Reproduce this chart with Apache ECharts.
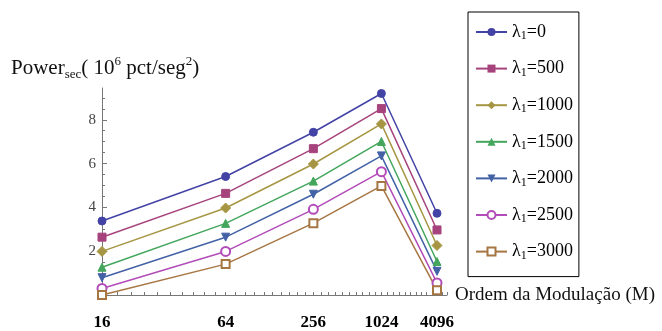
<!DOCTYPE html>
<html>
<head>
<meta charset="utf-8">
<script src="https://cdn.jsdelivr.net/npm/echarts@6/dist/echarts.min.js"></script>
<style>html,body{margin:0;padding:0;background:#fff}#c{width:662px;height:331px}</style>
</head>
<body>
<div id="c"></div>
<script>
// Modulation order M and its bits (log2 M) used as the x coordinate
const mLabels = ['16', '64', '256', '1024', '4096'];
const bits = [4, 6, 8, 10, 12];
const lambdas = ['0', '500', '1000', '1500', '2000', '2500', '3000'];
const s0    = [3.38, 5.41, 7.43, 9.20, 3.73];
const s500  = [2.64, 4.64, 6.68, 8.51, 2.97];
const s1000 = [1.99, 3.97, 5.98, 7.81, 2.26];
const s1500 = [1.27, 3.27, 5.20, 7.01, 1.53];
const s2000 = [0.79, 2.64, 4.60, 6.35, 1.08];
const s2500 = [0.30, 1.99, 3.91, 5.63, 0.55];
const s3000 = [0.00, 1.41, 3.28, 4.98, 0.22];
const yTicks = [2, 4, 6, 8];

const seriesVals = [s0, s500, s1000, s1500, s2000, s2500, s3000];
const colors = ['#4343a6', '#a6437c', '#a69643', '#43a65c', '#4362a6', '#b24cb8', '#a67643'];
const symbols = ['circle', 'rect', 'diamond', 'triangle', 'triangle', 'emptyCircle', 'emptyRect'];
const symSizes = [8, 8, 10, 8, 8, 9, 8];
const rotates = [0, 0, 0, 0, 180, 0, 0];

const minorTicks = [];
for (let v = 40; v <= 124; v += 2) minorTicks.push(v / 10);

const serif = '"Liberation Serif", "DejaVu Serif", serif';
const chart = echarts.init(document.getElementById('c'));
chart.setOption({
  animation: false,
  color: colors,
  title: {
    left: 6, top: 50,
    text: '{a|Power}{s|sec}{a|( 10}{p|6}{a| pct/seg}{p|2}{a|)}',
    textStyle: {
      fontWeight: 'normal',
      rich: {
        a: { fontFamily: serif, fontSize: 21, fontWeight: 'normal', color: '#111', lineHeight: 26 },
        s: { fontFamily: serif, fontSize: 13, fontWeight: 'normal', color: '#111', lineHeight: 13, verticalAlign: 'bottom' },
        p: { fontFamily: serif, fontSize: 13, fontWeight: 'normal', color: '#111', lineHeight: 15, verticalAlign: 'top' }
      }
    }
  },
  legend: {
    orient: 'vertical',
    left: 468, top: 12,
    padding: [11, 6, 15, 7],
    itemGap: 17.6,
    itemWidth: 31,
    itemHeight: 10,
    borderColor: '#000', borderWidth: 1,
    formatter: function (name) {
      return '{a|λ}{s|1}{a|=' + name.split('=')[1] + '}';
    },
    textStyle: {
      rich: {
        a: { fontFamily: serif, fontSize: 18, color: '#000', lineHeight: 20 },
        s: { fontFamily: serif, fontSize: 12, color: '#000', lineHeight: 10, verticalAlign: 'bottom' }
      }
    }
  },
  grid: { left: 102, right: 215, top: 88, bottom: 33, containLabel: false },
  xAxis: {
    type: 'log', logBase: 2, min: 4, max: 12.4,
    name: 'Ordem da Modulação (M)', nameLocation: 'end', nameGap: 8,
    nameTextStyle: { fontFamily: serif, fontSize: 19, color: '#111', verticalAlign: 'middle', padding: [0, 0, 10, 0] },
    axisLine: { lineStyle: { color: '#777', width: 1 } },
    axisTick: { show: true, customValues: minorTicks, length: 3, inside: true, lineStyle: { color: '#777' } },
    minorTick: { show: false },
    splitLine: { show: false },
    axisLabel: {
      customValues: bits,
      margin: 19,
      fontFamily: serif, fontSize: 17, fontWeight: 'bold', color: '#000',
      formatter: function (v) { const i = bits.indexOf(Math.round(v)); return i >= 0 ? mLabels[i] : ''; }
    }
  },
  yAxis: {
    type: 'value', min: 0, max: 9.45, interval: 2,
    axisLine: { show: true, lineStyle: { color: '#777', width: 1 } },
    axisTick: { show: true, customValues: yTicks, length: 5, inside: true, lineStyle: { color: '#777' } },
    minorTick: { show: true, splitNumber: 4, length: 3, lineStyle: { color: '#777' } },
    splitLine: { show: false },
    axisLabel: {
      customValues: yTicks, margin: 6,
      fontFamily: serif, fontSize: 15, color: '#444'
    }
  },
  series: seriesVals.map(function (vals, k) {
    return {
      name: 'λ1=' + lambdas[k],
      type: 'line',
      data: vals.map(function (v, i) { return [bits[i], v]; }),
      symbol: symbols[k],
      symbolSize: symSizes[k],
      symbolRotate: rotates[k],
      clip: false,
      lineStyle: { width: 1.5, color: colors[k] },
      itemStyle: { color: colors[k], borderColor: colors[k] }
    };
  })
});
</script>
</body>
</html>
